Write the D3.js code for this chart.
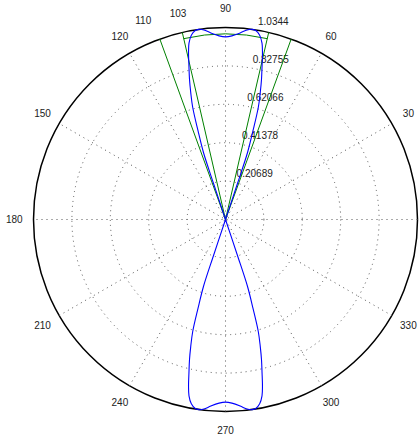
<!DOCTYPE html>
<html>
<head>
<meta charset="utf-8">
<script src="https://cdn.jsdelivr.net/npm/d3@7"></script>
<style>
body{margin:0;background:#fff}
text{font-family:"Liberation Sans",Arial,Helvetica,sans-serif;font-size:10px;fill:#222}
</style>
</head>
<body>
<div class="container"></div>
<script>
const wd = 419
const ht = 442
const cx = 225.5, cy = 219.5, rad = 192

// radial axis
const rMax = 1.0344
const ringTicks = [0.20689, 0.41378, 0.62066, 0.82755, 1.0344]
const ringLabels = ["0.20689", "0.41378", "0.62066", "0.82755", "1.0344"]
// angular axis (the 0 label falls outside the window, as in the reference)
const spokeAngles = [30, 60, 90, 120, 150, 180]
const angleLabels = [30, 60, 90, 120, 150, 180, 210, 240, 270, 300, 330]

// blue pattern, upper lobe and lower lobe (deg, r)
const upperTheta = [71.5,71.6,71.8,72.8,73.7,74.7,75.6,76.6,77.5,78.3,79.5,80.8,82,83.5,85.5,88,90,92,94.5,96.5,98,99.2,100.5,101.7,102.5,103.4,104.4,105.3,106.3,107.2,108.2,108.4,108.5]
const upperR = [0,0.2,0.38,0.5,0.63,0.71,0.78,0.85,0.92,0.97,1.01,1.03,1.0344,1.028,1.008,0.99,0.984,0.99,1.008,1.028,1.0344,1.03,1.01,0.97,0.92,0.85,0.78,0.71,0.63,0.5,0.38,0.2,0]
const lowerTheta = [251.5,251.6,251.8,252.8,253.7,254.7,255.6,256.6,257.5,258.3,259.5,260.8,262,263.5,265.5,268,270,272,274.5,276.5,278,279.2,280.5,281.7,282.5,283.4,284.4,285.3,286.3,287.2,288.2,288.4,288.5]
const lowerR = [0,0.2,0.38,0.5,0.63,0.71,0.78,0.85,0.92,0.97,1.01,1.03,1.0344,1.028,1.008,0.99,0.984,0.99,1.008,1.028,1.0344,1.03,1.01,0.97,0.92,0.85,0.78,0.71,0.63,0.5,0.38,0.2,0]

// green mask: edge lines and flat top
const maskEdges = [70, 77, 103, 110]
const maskLevel = 1.0
const maskFrom = 77, maskTo = 103

// annotations
const noteAngles = [103, 110]
const noteLabels = ["103", "110"]

const svg = d3.select(".container")
.append("svg")
.attr("width", wd)
.attr("height", ht)

const rScale = d3.scaleLinear().domain([0, rMax]).range([0, rad])
const rad2 = (d) => d * Math.PI / 180
const px = (th, r) => cx + rScale(r) * Math.cos(rad2(th))
const py = (th, r) => cy - rScale(r) * Math.sin(rad2(th))

const grid = svg.append("g")

// outer solid circle
grid.append("circle")
.attr("cx", cx).attr("cy", cy)
.attr("r", rScale(rMax))
.attr("fill", "none")
.attr("stroke", "#000")
.attr("stroke-width", 1.5)

// dotted rings
grid.selectAll(".ring")
.data(ringTicks.slice(0, -1))
.enter().append("circle")
.attr("cx", cx).attr("cy", cy)
.attr("r", d => rScale(d))
.attr("fill", "none")
.attr("stroke", "#555")
.attr("stroke-width", 1)
.attr("stroke-dasharray", "1,4")

// dotted spokes
grid.selectAll(".spoke")
.data(spokeAngles)
.enter().append("line")
.attr("x1", d => px(d + 180, rMax)).attr("y1", d => py(d + 180, rMax))
.attr("x2", d => px(d, rMax)).attr("y2", d => py(d, rMax))
.attr("stroke", "#555")
.attr("stroke-width", 1)
.attr("stroke-dasharray", "1,4")

// ring labels at 82 deg
grid.selectAll(".rlab")
.data(ringTicks)
.enter().append("text")
.attr("x", (d, i) => px(82, d + ringTicks[0] / 20) + 5.5)
.attr("y", (d, i) => py(82, d + ringTicks[0] / 20) - 2.5)
.text((d, i) => ringLabels[i])

// angle labels
grid.selectAll(".alab")
.data(angleLabels)
.enter().append("text")
.attr("x", d => px(d, rMax * 1.1))
.attr("y", d => py(d, rMax * 1.1))
.attr("text-anchor", "middle")
.attr("dy", "0.35em")
.text(d => d)

// green mask
const maskGroup = svg.append("g")
.attr("stroke", "#008000")
.attr("stroke-width", 1)
.attr("fill", "none")

maskGroup.selectAll("line")
.data(maskEdges)
.enter().append("line")
.attr("x1", cx).attr("y1", cy)
.attr("x2", d => px(d, rMax)).attr("y2", d => py(d, rMax))

const topArc = d3.path()
topArc.arc(cx, cy, rScale(maskLevel), -rad2(maskTo), -rad2(maskFrom))
maskGroup.append("path").attr("d", topArc.toString())

// blue pattern
const lineFunc = d3.line()
.x(d => px(d.th, d.r))
.y(d => py(d.th, d.r))
.curve(d3.curveCatmullRom.alpha(0.5))

const lobes = [
  upperTheta.map((t, i) => ({th: t, r: upperR[i]})),
  lowerTheta.map((t, i) => ({th: t, r: lowerR[i]}))
]

svg.append("g").selectAll("path")
.data(lobes)
.enter().append("path")
.attr("d", d => lineFunc(d))
.attr("fill", "none")
.attr("stroke", "#0000ff")
.attr("stroke-width", 1.1)

// annotations
svg.append("g").selectAll("text")
.data(noteAngles)
.enter().append("text")
.attr("x", (d, i) => px(d, rMax * 1.1) - (i == 1 ? 10 : 0))
.attr("y", (d, i) => py(d, rMax * 1.1) - (i == 1 ? 1 : 0))
.attr("text-anchor", "middle")
.attr("dy", "0.35em")
.text((d, i) => noteLabels[i])
</script>
</body>
</html>
